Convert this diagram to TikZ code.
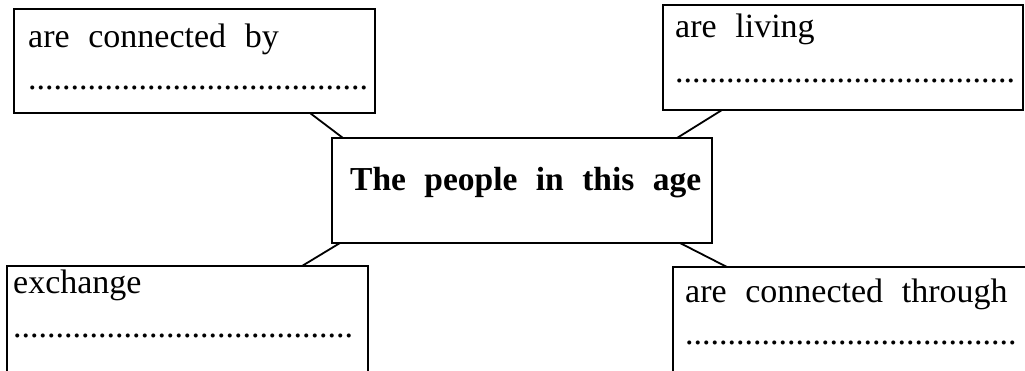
\documentclass[tikz,border=0pt]{standalone}
\usepackage{fontspec}
\setmainfont{Liberation Serif}[WordSpace=2.2]
\newfontfamily\dotfont{Liberation Serif}
\begin{document}
\begin{tikzpicture}[x=1pt,y=-1pt,
  box/.style={draw,line width=1.8pt,rectangle,inner sep=0pt,outer sep=0pt,anchor=north west},
  lbl/.style={anchor=base west,inner sep=0pt,font=\fontsize{34}{40}\selectfont},
  ttl/.style={anchor=base west,inner sep=0pt,font=\fontsize{33.5}{40}\selectfont\bfseries},
  dots/.style={anchor=base west,inner sep=0pt,font=\fontsize{34}{40}\selectfont\dotfont},
  link/.style={line width=1.8pt}]
\useasboundingbox (0,0) rectangle (1025,370);
\fill[white] (0,0) rectangle (1025,370);
\clip (0,0) rectangle (1025,370);
\node[box,minimum width=361pt,minimum height=104pt] (tl) at (14,9) {};
\node[box,minimum width=360pt,minimum height=105pt] (tr) at (663,5) {};
\node[box,minimum width=380pt,minimum height=105pt] (c) at (332,138) {};
\node[box,minimum width=361pt,minimum height=120pt] (bl) at (7,266) {};
\node[box,minimum width=380pt,minimum height=120pt] (br) at (673,267) {};
\node[lbl] (tlt) at (28,47) {are connected by};
\node[dots] (tld) at (28,89) {........................................};
\node[lbl] (trt) at (675,37) {are living};
\node[dots] (trd) at (675,82) {........................................};
\node[ttl] (ct) at (350,190) {The people in this age};
\node[lbl] (blt) at (13,293) {exchange};
\node[dots] (bld) at (13,337) {........................................};
\node[lbl] (brt) at (685,302) {are connected through};
\node[dots] (brd) at (685,344) {.......................................};
\draw[link] ([xshift=296pt]tl.south west) -- ([xshift=11pt]c.north west);
\draw[link] ([xshift=59pt]tr.south west) -- ([xshift=-35pt]c.north east);
\draw[link] ([xshift=8pt]c.south west) -- ([xshift=295pt]bl.north west);
\draw[link] ([xshift=-32pt]c.south east) -- ([xshift=54pt]br.north west);
\end{tikzpicture}
\end{document}
